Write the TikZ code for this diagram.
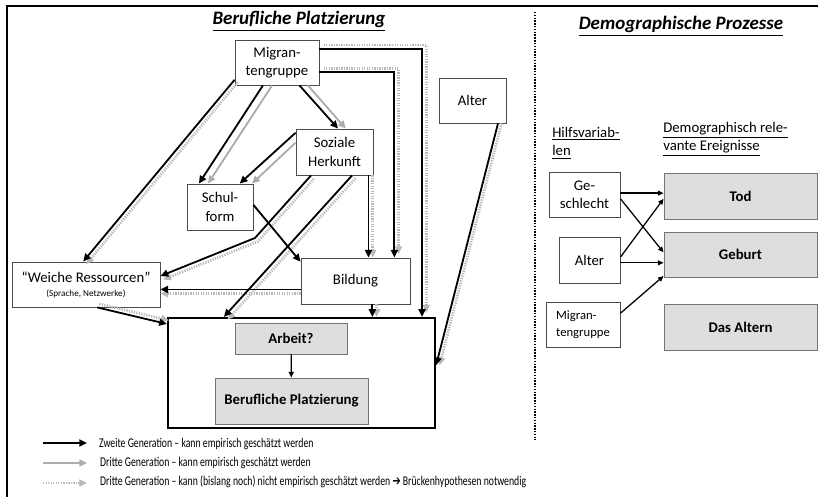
\documentclass[tikz,border=0pt]{standalone}
\usepackage{fontspec}
\setmainfont{Carlito}
\newfontfamily\symbfont{DejaVu Sans}
\usetikzlibrary{arrows.meta,positioning,calc}

\begin{document}
\begin{tikzpicture}[x=0.025cm,y=-0.025cm,
  font=\fontsize{10.5}{13}\selectfont,
  var/.style={draw=black!70,line width=0.6pt,fill=white,align=center,inner sep=1pt},
  event/.style={draw=black!55,line width=0.6pt,fill=gray!26,align=center,
                font=\fontsize{10.5}{13}\selectfont\bfseries},
  paneltitle/.style={font=\fontsize{13.5}{16}\selectfont\bfseries\itshape},
  colhead/.style={align=left,anchor=west,inner sep=0pt},
  zweite/.style={-{Triangle[length=5.5pt,width=5pt]},line width=1.3pt,draw=black},
  dritte/.style={zweite,draw=gray!65},
  hyp/.style={-{Triangle[length=5.5pt,width=5pt]},draw=gray!55,line width=1.9pt,
              dash pattern=on 0.9pt off 0.9pt,transform canvas={shift={#1}}},
  hyp/.default={(0pt,0pt)},
  rel/.style={-{Triangle[length=4pt,width=3.5pt]},line width=0.9pt},
  legtext/.style={anchor=west,inner sep=0pt,xscale=0.73,font=\fontsize{9.5}{11}\selectfont},
]
\useasboundingbox (0,0) rectangle (818,497);

% ---- frame and divider ------------------------------------------------------
\draw[line width=1.3pt] (7,497) -- (7,6) -- (818,6);
\draw[line width=1.2pt,dash pattern=on 1pt off 1pt] (535,12) -- (535,440);

% ---- panel titles -----------------------------------------------------------
\node[paneltitle] (tBeruf) at (299,21) {\underline{Berufliche Platzierung}};
\node[paneltitle] (tDemo)  at (681,26) {\underline{Demographische Prozesse}};

% ---- left panel: variables --------------------------------------------------
\node[var,minimum width=2.1cm,minimum height=1.125cm]  (migr)   at (277,62.5)  {Migran-\\tengruppe};
\node[var,minimum width=1.925cm,minimum height=1.15cm] (soz)    at (334.5,152) {Soziale\\Herkunft};
\node[var,minimum width=1.65cm,minimum height=1.15cm]  (schul)  at (220,207)   {Schul-\\form};
\node[var,minimum width=1.675cm,minimum height=1.125cm](alt)    at (472.5,100.5) {Alter};
\node[var,minimum width=3.7cm,minimum height=1.125cm]  (weiche) at (86,284.5)
     {``Weiche Ressourcen''\\[-3pt]{\fontsize{6.5}{8}\selectfont (Sprache, Netzwerke)}};
\node[var,minimum width=2.725cm,minimum height=1.15cm] (bild)   at (355.5,281) {Bildung};

% ---- left panel: outcome box ------------------------------------------------
\node[draw,line width=1.5pt,minimum width=6.675cm,minimum height=2.75cm] (box) at (301.5,373) {};
\node[event,minimum width=2.8cm,minimum height=0.775cm]  (arbeit) at (291,338.5) {Arbeit?};
\node[event,minimum width=3.825cm,minimum height=1.15cm] (beruf)  at (291.5,401) {Berufliche Platzierung};
\draw[rel] (arbeit) -- (beruf);

% ---- dotted: not (yet) estimable --------------------------------------------
\coordinate (bendW) at (255,238);
\draw[hyp={(2.2pt,-1.8pt)}] ([yshift=4pt]migr.south west) -- ([xshift=-2pt]weiche.north);
\draw[hyp={(3pt,3pt)}]      ([yshift=9.5pt]migr.east) -| ([xshift=-10pt]box.north east);
\draw[hyp={(3pt,2.5pt)}]    ([yshift=-7pt]migr.east) -| ([xshift=-11.4pt]bild.north east);
\draw[hyp={(3pt,0pt)}]      ([xshift=-3.5pt]soz.south east) -- ([xshift=-3.5pt]soz.south east |- bild.north);
\draw[hyp={(2pt,-2.5pt)}]   ([xshift=11pt]soz.south west) -- (bendW) -- ([yshift=6pt]weiche.east);
\draw[hyp={(2.5pt,-2pt)}]   ([xshift=12.5pt]soz.south) -- ([xshift=40.5pt]box.north west);
\draw[hyp={(0pt,-3pt)}]     ([yshift=-6pt]bild.west) -- ([yshift=-6pt]bild.west -| weiche.east);
\draw[hyp={(3pt,0pt)}]      ([xshift=12pt]bild.south) -- ([xshift=12pt]bild.south |- box.north);
\draw[hyp={(1.5pt,2.5pt)}]  ([xshift=8pt]weiche.south) -- ([yshift=-5pt]box.north west);
\draw[hyp={(2.5pt,0pt)}]    ([xshift=-6pt]alt.south east) -- ([yshift=5.5pt]box.east);

% ---- gray: third generation -------------------------------------------------
\draw[dritte] ([xshift=-3.5pt]migr.south) -- ([xshift=-8.5pt]schul.north);
\draw[dritte] ([xshift=22pt]migr.south) -- ([xshift=8pt]soz.north);
\draw[dritte] ([yshift=-10pt]soz.north west) -- ([xshift=-1pt]schul.north east);

% ---- black: second generation -----------------------------------------------
\draw[zweite] ([yshift=4pt]migr.south west) -- ([xshift=-2pt]weiche.north);
\draw[zweite] ([xshift=-10pt]migr.south) -- ([xshift=-15pt]schul.north);
\draw[zweite] ([xshift=16pt]migr.south) -- ([xshift=2.5pt]soz.north);
\draw[zweite] ([yshift=-3pt]soz.north west) -- ([xshift=14pt]schul.north);
\draw[zweite] ([yshift=9.5pt]migr.east) -| ([xshift=-10pt]box.north east);
\draw[zweite] ([yshift=-7pt]migr.east) -| ([xshift=-11.4pt]bild.north east);
\draw[zweite] ([xshift=-3.5pt]soz.south east) -- ([xshift=-3.5pt]soz.south east |- bild.north);
\draw[zweite] ([xshift=11pt]soz.south west) -- (bendW) -- ([yshift=6pt]weiche.east);
\draw[zweite] ([xshift=12.5pt]soz.south) -- ([xshift=40.5pt]box.north west);
\draw[zweite] ([yshift=1.5pt]schul.east) -- ([yshift=-3pt]bild.north west);
\draw[zweite] ([yshift=-6pt]bild.west) -- ([yshift=-6pt]bild.west -| weiche.east);
\draw[zweite] ([xshift=12pt]bild.south) -- ([xshift=12pt]bild.south |- box.north);
\draw[zweite] ([xshift=8pt]weiche.south) -- ([yshift=-5pt]box.north west);
\draw[zweite] ([xshift=-6pt]alt.south east) -- ([yshift=5.5pt]box.east);

% ---- right panel -------------------------------------------------------------
\node[colhead] (hHilf) at (552,143) {\underline{Hilfsvariab-}\\\underline{len}};
\node[colhead] (hEreig) at (663,139) {\underline{Demographisch rele-}\\\underline{vante Ereignisse}};

\node[var,minimum width=1.775cm,minimum height=1.125cm] (ges)   at (584.5,194.5) {Ge-\\schlecht};
\node[var,minimum width=1.525cm,minimum height=1.15cm]  (alt2)  at (589.5,260)   {Alter};
\node[var,minimum width=1.85cm,minimum height=1.125cm,align=left,
      font=\fontsize{9}{12}\selectfont] (migr2) at (583,324.5) {Migran-\\tengruppe};

\node[event,minimum width=3.825cm,minimum height=1.15cm]  (tod)    at (740.5,196)   {Tod};
\node[event,minimum width=3.825cm,minimum height=1.125cm] (geb)    at (740.5,254.5) {Geburt};
\node[event,minimum width=3.825cm,minimum height=1.15cm]  (altern) at (740.5,327)   {Das Altern};

\draw[rel] ([yshift=1pt]ges.east) -- ([yshift=1pt]ges.east -| tod.west);
\draw[rel] ([yshift=-3pt]ges.east) -- ([yshift=1.5pt]geb.west);
\draw[rel] ([yshift=2pt]alt2.east) -- ([yshift=-2pt]tod.west);
\draw[rel] ([yshift=-2pt]alt2.east) -- ([yshift=-2pt]alt2.east -| geb.west);
\draw[rel] ([yshift=8pt]migr2.east) -- ([yshift=1pt]geb.south west);

% ---- legend -----------------------------------------------------------------
\coordinate (leg1a) at (43,443); \coordinate (leg1b) at (87,443);
\coordinate (leg2a) at (43,463); \coordinate (leg2b) at (87,463);
\coordinate (leg3a) at (43,483); \coordinate (leg3b) at (87,483);
\draw[zweite] (leg1a) -- (leg1b);
\draw[dritte] (leg2a) -- (leg2b);
\draw[hyp]    (leg3a) -- (leg3b);
\node[legtext] (leg1t) at (99,444)  {Zweite Generation – kann empirisch geschätzt werden};
\node[legtext] (leg2t) at (100,463) {Dritte Generation – kann empirisch geschätzt werden};
\node[legtext] (leg3t) at (100,482) {Dritte Generation – kann (bislang noch) nicht empirisch geschätzt werden {\symbfont ➔} Brückenhypothesen notwendig};

\end{tikzpicture}
\end{document}
